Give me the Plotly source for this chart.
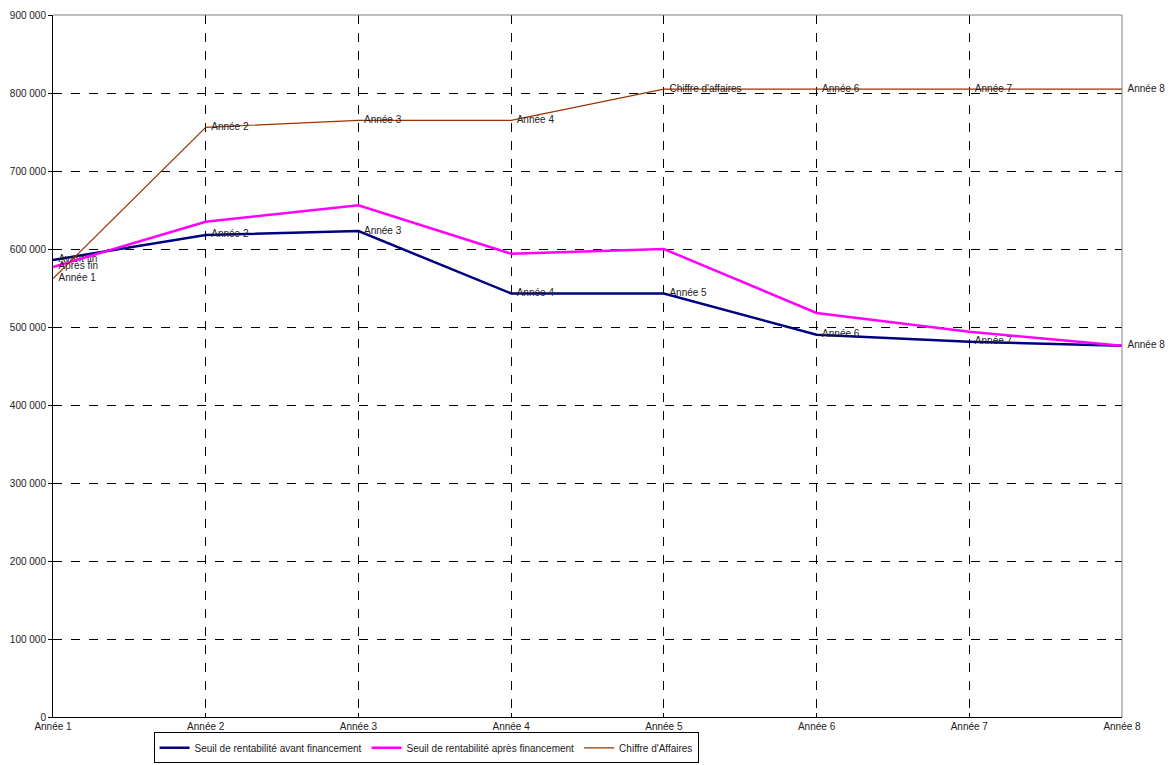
"""Seuil de rentabilité vs chiffre d'affaires"""
import plotly.graph_objects as go

annees = ['Année 1', 'Année 2', 'Année 3', 'Année 4',
          'Année 5', 'Année 6', 'Année 7', 'Année 8']

seuil_avant = [586000, 618000, 623000, 543000, 543000, 490000, 481000, 476000]
seuil_apres = [577000, 635000, 656000, 594000, 600000, 518000, 494000, 476000]
chiffre_affaires = [562000, 756000, 765000, 765000, 805000, 805000, 805000, 805000]

labels_avant = ['Avant fin', 'Année 2', 'Année 3', 'Année 4',
                'Année 5', 'Année 6', 'Année 7', 'Année 8']
labels_apres = ['Après fin', '', '', '', '', '', '', '']
labels_ca = ['Année 1', 'Année 2', 'Année 3', 'Année 4',
             "Chiffre d'affaires", 'Année 6', 'Année 7', 'Année 8']

y_ticks = list(range(0, 900001, 100000))
y_ticktext = ['{:,}'.format(v).replace(',', ' ') for v in y_ticks]

x = list(range(len(annees)))
font = dict(family='Liberation Sans, Arial, sans-serif', size=10, color='#222222')


def pad(labels):
    # small gap between the point and its label
    return ['\u00a0\u00a0' + s if s else '' for s in labels]


fig = go.Figure()

fig.add_trace(go.Scatter(
    x=x, y=seuil_avant, mode='lines+text',
    name='Seuil de rentabilité avant financement',
    text=pad(labels_avant), textposition='middle right', textfont=font,
    cliponaxis=False,
    line=dict(color='#000080', width=2.5)
))

fig.add_trace(go.Scatter(
    x=x, y=seuil_apres, mode='lines+text',
    name='Seuil de rentabilité après financement',
    text=pad(labels_apres), textposition='middle right', textfont=font,
    cliponaxis=False,
    line=dict(color='#FF00FF', width=2.5)
))

fig.add_trace(go.Scatter(
    x=x, y=chiffre_affaires, mode='lines+text',
    name="Chiffre d'Affaires",
    text=pad(labels_ca), textposition='middle right', textfont=font,
    cliponaxis=False,
    line=dict(color='#993300', width=1.2)
))

# top and right border in grey
fig.add_shape(type='line', xref='paper', yref='paper', x0=0, x1=1, y0=1, y1=1,
              line=dict(color='#808080', width=1), layer='above')
fig.add_shape(type='line', xref='paper', yref='paper', x0=1, x1=1, y0=0, y1=1,
              line=dict(color='#808080', width=1), layer='above')

# page body has an 8px margin, so the figure is shrunk to fit the window
fig.update_layout(
    width=1165, height=757,
    margin=dict(l=45, r=51, t=7, b=48, autoexpand=False),
    plot_bgcolor='white', paper_bgcolor='white',
    font=font,
    showlegend=True,
    legend=dict(
        orientation='h', x=0.349, xanchor='center', y=-0.066, yanchor='bottom',
        bordercolor='black', borderwidth=1, font=font,
        itemwidth=30, tracegroupgap=0
    ),
    xaxis=dict(
        range=[0, 7], tickvals=x, ticktext=annees,
        showgrid=True, gridcolor='black', griddash='dash', gridwidth=1,
        showline=True, linecolor='black', linewidth=1,
        ticks='inside', ticklen=4, tickcolor='black',
        zeroline=False, fixedrange=True, automargin=False
    ),
    yaxis=dict(
        range=[0, 900000], tickvals=y_ticks, ticktext=y_ticktext,
        showgrid=True, gridcolor='black', griddash='dash', gridwidth=1,
        showline=True, linecolor='black', linewidth=1,
        ticks='outside', ticklen=4, tickcolor='black',
        zeroline=False, fixedrange=True, automargin=False
    )
)

fig.write_html("out.html")
